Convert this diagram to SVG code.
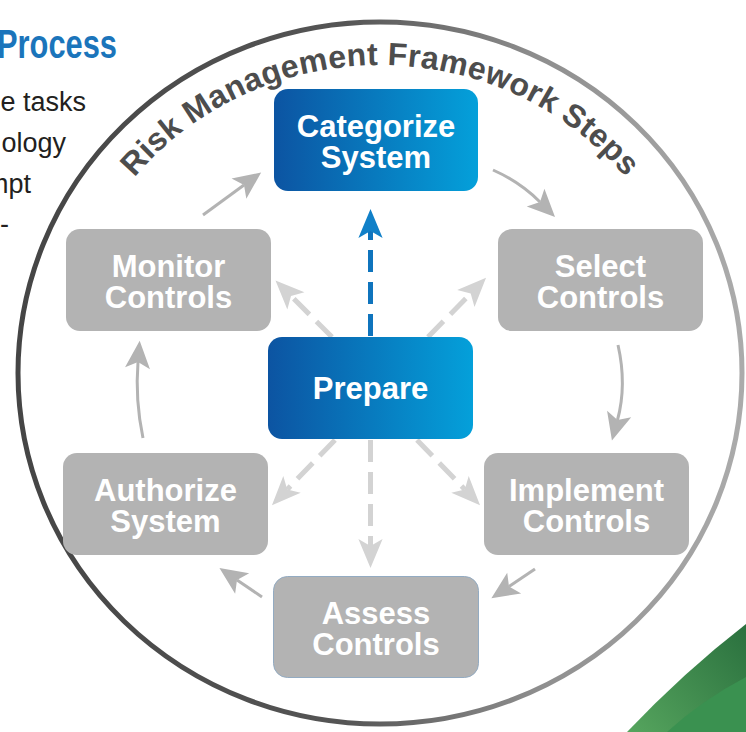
<svg xmlns="http://www.w3.org/2000/svg" width="746" height="732" viewBox="0 0 746 732">
  <style>
    .box-blue { fill: url(#blueGrad); }
    .box-gray { fill: #b3b3b3; }
    .label { font-family: "Liberation Sans", Arial, sans-serif; font-weight: bold; font-size: 31px; fill: #ffffff; text-anchor: middle; }
    .body { font-family: "Liberation Sans", Arial, sans-serif; font-size: 27px; fill: #231f20; text-anchor: end; }
    .cycle { fill: none; stroke: #b3b3b3; stroke-width: 3; marker-end: url(#headGray); }
    .dash { fill: none; stroke: #d3d3d3; stroke-width: 5; stroke-dasharray: 22 10; marker-end: url(#headDash); }
    .dash-blue { fill: none; stroke: #0f74bd; stroke-width: 5; stroke-dasharray: 22 10; marker-end: url(#headBlue); }
  </style>
  <defs>
    <linearGradient id="blueGrad" x1="0" y1="0" x2="1" y2="0">
      <stop offset="0" stop-color="#0c54a2"/>
      <stop offset="1" stop-color="#04a0da"/>
    </linearGradient>
    <linearGradient id="ringGrad" gradientUnits="userSpaceOnUse" x1="17" y1="0" x2="742" y2="0">
      <stop offset="0" stop-color="#454545"/>
      <stop offset="0.45" stop-color="#555555"/>
      <stop offset="0.72" stop-color="#8e8e8e"/>
      <stop offset="1" stop-color="#ababab"/>
    </linearGradient>
    <linearGradient id="greenBand" gradientUnits="userSpaceOnUse" x1="627" y1="732" x2="746" y2="624">
      <stop offset="0" stop-color="#56a55e"/>
      <stop offset="1" stop-color="#2a703e"/>
    </linearGradient>
    <marker id="headGray" markerUnits="userSpaceOnUse" markerWidth="30" markerHeight="30" refX="5" refY="0" orient="auto" viewBox="0 -12 24 24" overflow="visible">
      <path d="M0,-10 L22,0 L0,10 L5,0 Z" fill="#b3b3b3"/>
    </marker>
    <marker id="headDash" markerUnits="userSpaceOnUse" markerWidth="30" markerHeight="30" refX="6" refY="0" orient="auto" viewBox="0 -12 26 24" overflow="visible">
      <path d="M0,-10.5 L25,0 L0,10.5 L6,0 Z" fill="#d3d3d3"/>
    </marker>
    <marker id="headBlue" markerUnits="userSpaceOnUse" markerWidth="30" markerHeight="30" refX="6" refY="0" orient="auto" viewBox="0 -12 26 24" overflow="visible">
      <path d="M0,-10.5 L25,0 L0,10.5 L6,0 Z" fill="#1180c8"/>
    </marker>
    <path id="titleArc" d="M62,373 A318,308 0 0 1 698,373"/>
  </defs>

  <rect x="0" y="0" width="746" height="732" fill="#ffffff"/>

  <!-- left page fragments -->
  <g id="page-text">
    <text x="-3" y="58" font-family="'Liberation Sans', Arial, sans-serif" font-weight="bold" font-size="41" fill="#1b75bb" textLength="120" lengthAdjust="spacingAndGlyphs">Process</text>
    <text class="body" x="86" y="111">e tasks</text>
    <text class="body" x="66" y="152">ology</text>
    <text class="body" x="31" y="193">mpt</text>
    <text class="body" x="9" y="233">-</text>
  </g>

  <!-- green corner -->
  <g id="green-corner">
    <path d="M627,732 Q684,672 746,624 L746,732 Z" fill="url(#greenBand)"/>
    <path d="M667,732 Q702,700 746,677 L746,732 Z" fill="#3a9150"/>
  </g>

  <!-- outer ring and title -->
  <g id="ring">
    <ellipse cx="380" cy="373" rx="362" ry="351" fill="none" stroke="url(#ringGrad)" stroke-width="5"/>
    <text font-family="'Liberation Sans', Arial, sans-serif" font-weight="bold" font-size="32" fill="#4d4d4d" letter-spacing="0.3">
      <textPath href="#titleArc" startOffset="50%" text-anchor="middle">Risk Management Framework Steps</textPath>
    </text>
  </g>

  <!-- connectors -->
  <g id="connectors">
    <path class="cycle" d="M493,170 Q520,182 540,202"/>
    <path class="cycle" d="M618,345 Q627,385 617.5,420"/>
    <path class="cycle" d="M535,569 L509,586.5"/>
    <path class="cycle" d="M262,597 L237,580"/>
    <path class="cycle" d="M143,438 Q135,400 138,362"/>
    <path class="cycle" d="M203,215 L244,185"/>

    <path class="dash-blue" d="M370.5,336 L370.5,231"/>
    <path class="dash" d="M370.5,440 L370.5,546"/>
    <path class="dash" d="M332,337 L291,296"/>
    <path class="dash" d="M428,337 L470.7,293.5"/>
    <path class="dash" d="M335,440 L287.2,489.4"/>
    <path class="dash" d="M417,440 L464.8,489.4"/>
  </g>

  <!-- nodes -->
  <g id="categorize">
    <rect class="box-blue" x="274" y="89" width="204" height="102" rx="14"/>
    <text class="label" x="376" y="137">Categorize</text>
    <text class="label" x="376" y="168">System</text>
  </g>
  <g id="select">
    <rect class="box-gray" x="498" y="229" width="205" height="102" rx="14"/>
    <text class="label" x="600.5" y="277">Select</text>
    <text class="label" x="600.5" y="308">Controls</text>
  </g>
  <g id="implement">
    <rect class="box-gray" x="484" y="453" width="205" height="102" rx="14"/>
    <text class="label" x="586.5" y="501">Implement</text>
    <text class="label" x="586.5" y="532">Controls</text>
  </g>
  <g id="assess">
    <rect class="box-gray" x="273.5" y="576.5" width="205" height="101" rx="14" stroke="#93abc2" stroke-width="1"/>
    <text class="label" x="376" y="624">Assess</text>
    <text class="label" x="376" y="655">Controls</text>
  </g>
  <g id="authorize">
    <rect class="box-gray" x="63" y="453" width="205" height="102" rx="14"/>
    <text class="label" x="165.5" y="501">Authorize</text>
    <text class="label" x="165.5" y="532">System</text>
  </g>
  <g id="monitor">
    <rect class="box-gray" x="66" y="229" width="205" height="102" rx="14"/>
    <text class="label" x="168.5" y="277">Monitor</text>
    <text class="label" x="168.5" y="308">Controls</text>
  </g>
  <g id="prepare">
    <rect class="box-blue" x="268" y="337" width="205" height="102" rx="14"/>
    <text class="label" x="370.5" y="399">Prepare</text>
  </g>
</svg>
